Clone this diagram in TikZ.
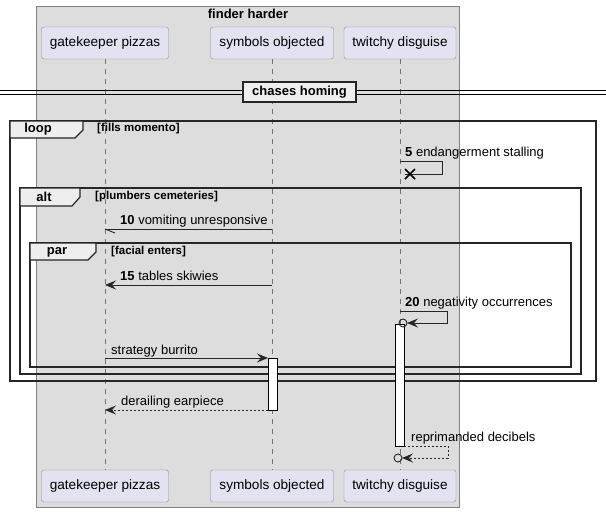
\documentclass[tikz,border=0pt]{standalone}
\usepackage{fontspec}
\setmainfont{Liberation Sans}
\usetikzlibrary{arrows.meta}

\definecolor{boxgray}{HTML}{DDDDDD}
\definecolor{actorfill}{HTML}{E2E2F0}
\definecolor{tabfill}{HTML}{EEEEEE}

\tikzset{
	actor/.style={draw=black!45, fill=actorfill, rounded corners=2.5pt, minimum height=32pt, inner xsep=0pt, font=\fontsize{13.6}{15}\selectfont},
	life/.style={draw=black!55, dash pattern=on 5pt off 5pt},
	tip/.style={-{Stealth[length=11pt,width=9pt,inset=4pt]}},
	msg/.style={draw=black!85, line width=0.9pt},
	lbl/.style={anchor=base west, inner sep=0pt, font=\fontsize{13}{15}\selectfont},
	frame/.style={draw=black!85, line width=1.5pt},
	tabbox/.style={draw=black!85, line width=1.2pt, fill=tabfill},
	tabtext/.style={inner sep=0pt, font=\bfseries\fontsize{13}{15}\selectfont},
	guard/.style={anchor=west, inner sep=0pt, font=\bfseries\fontsize{11.5}{13}\selectfont},
	bar/.style={draw=black, line width=0.9pt, fill=white}
}

\begin{document}
\begin{tikzpicture}[x=1pt,y=-1pt]
	\useasboundingbox (0,0) rectangle (606,512);

	% the box round the participants
	\draw[draw=black!50, fill=boxgray] (36,6) rectangle (459,507);
	\node[tabtext] (boxname) at (248,14) {finder harder};

	% participants, top and bottom
	\node[actor, minimum width=127pt] (gp) at (105,43) {gatekeeper pizzas};
	\node[actor, minimum width=123pt] (so) at (272,43) {symbols objected};
	\node[actor, minimum width=112pt] (td) at (400,43) {twitchy disguise};
	\node[actor, minimum width=127pt] (gpB) at (105,486) {gatekeeper pizzas};
	\node[actor, minimum width=123pt] (soB) at (272,486) {symbols objected};
	\node[actor, minimum width=112pt] (tdB) at (400,486) {twitchy disguise};

	\foreach \p in {gp, so, td}
	\draw[life] (\p.south) -- (\p B.north);

	% divider
	\draw[line width=0.9pt] (0,90) -- (606,90);
	\draw[line width=0.9pt] (0,94) -- (606,94);
	\node[draw=black!85, line width=1.5pt, fill=tabfill, minimum width=113pt, minimum height=20pt, inner sep=0pt, font=\bfseries\fontsize{13}{15}\selectfont] (div) at (299.5,92) {chases homing};

	% frames
	\draw[frame] (10,121) rectangle (596,381);
	\draw[tabbox] (10,121) -- (83,121) -- (83,130) -- (75,138) -- (10,138) -- cycle;
	\node[tabtext] (looplbl) at (38,129) {loop};
	\node[guard] (loopgd) at (97,129) {[fills momento]};

	\draw[frame] (20,188) rectangle (581,374);
	\draw[tabbox] (20,188) -- (80,188) -- (80,197) -- (72,206) -- (20,206) -- cycle;
	\node[tabtext] (altlbl) at (44,197) {alt};
	\node[guard] (altgd) at (95,197) {[plumbers cemeteries]};

	\draw[frame] (30,243) rectangle (571,367);
	\draw[tabbox] (30,243) -- (96,243) -- (96,252) -- (88,260) -- (30,260) -- cycle;
	\node[tabtext] (parlbl) at (57,252) {par};
	\node[guard] (pargd) at (111,252) {[facial enters]};

	% activations
	\draw[bar] (268,358) rectangle (277,410);
	\draw[bar] (395,324) rectangle (404,446);

	% messages
	\node[lbl] (m5) at (405,156) {\textbf{5} endangerment stalling};
	\draw[msg] (td |- 0,161) -- (442,161) -- (442,174) -- (405,174);
	\draw[line width=1.6pt] (405,169) -- (415,179) (405,179) -- (415,169);

	\node[lbl] (m10) at (120,224) {\textbf{10} vomiting unresponsive};
	\draw[msg] (so |- 0,229) -- (gp |- 0,229);
	\draw[msg] (gp |- 0,229) -- (115,233);

	\node[lbl] (m15) at (120,280) {\textbf{15} tables skiwies};
	\draw[msg, tip] (so |- 0,285) -- (gp |- 0,285);

	\node[lbl] (m20) at (405,306) {\textbf{20} negativity occurrences};
	\draw[msg, tip] (td |- 0,311) -- (447,311) -- (447,323) -- (407,323);
	\draw[msg] (403,323) circle (4pt);

	\node[lbl] (m25) at (111,354) {strategy burrito};
	\draw[msg, tip] (gp |- 0,358) -- (268,358);

	\node[lbl] (m30) at (121,405) {derailing earpiece};
	\draw[msg, tip, dash pattern=on 2pt off 2pt] (268,410) -- (gp |- 0,410);

	\node[lbl] (m35) at (411,441) {reprimanded decibels};
	\draw[msg, tip, dash pattern=on 2pt off 2pt] (404,446) -- (448,446) -- (448,458) -- (402,458);
	\draw[msg] (398,458) circle (4pt);
\end{tikzpicture}
\end{document}
